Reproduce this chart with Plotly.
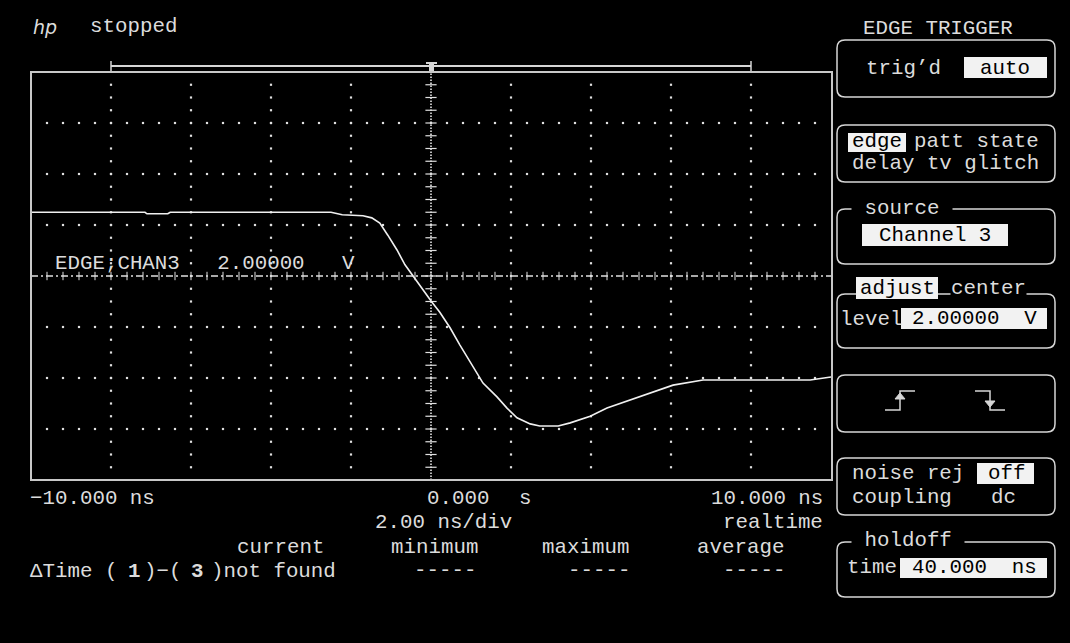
import numpy as np
import plotly.graph_objects as go

time_ns = [-10.0, -7.15, -7.10, -6.58, -6.52, -2.50, -2.22, -1.70, -1.48, -1.28,
           -1.08, -0.85, -0.65, -0.45, -0.20, 0.02, 0.22, 0.48, 0.72, 0.98,
           1.30, 1.65, 1.90, 2.15, 2.48, 2.72, 3.18, 3.48, 3.98, 4.40,
           5.05, 6.05, 6.80, 9.48, 10.0]
volts = [3.25, 3.25, 3.22, 3.22, 3.25, 3.25, 3.20, 3.18, 3.14, 3.04,
         2.80, 2.51, 2.22, 2.00, 1.73, 1.49, 1.29, 0.98, 0.65, 0.31,
         -0.10, -0.37, -0.59, -0.78, -0.90, -0.94, -0.94, -0.88, -0.75, -0.59,
         -0.41, -0.14, -0.04, -0.04, 0.02]

x_range = [-10, 10]          # ns
y_range = [-2, 6]            # V
trigger_level = 2.0          # V
x_divs = [-8, -6, -4, -2, 2, 4, 6, 8]
y_divs = [-1, 0, 1, 3, 4, 5]

x_left_label = "\u221210.000 ns"
x_mid_label = "0.000"
x_mid_unit = "s"
x_right_label = "10.000 ns"
timebase_label = "2.00 ns/div"
mode_label = "realtime"
stat_headers = ["current", "minimum", "maximum", "average"]

# ---------------- geometry helpers ----------------
W, H = 1070, 643
L, T, R, B = 31, 72, 831, 480
FG = "#dcdcdc"
LN = "#d6d6d6"
FONT = "Liberation Mono"
FS = 20.8


def fx(px):
    return (px - L) / (R - L)


def fy(py):
    return (B - py) / (B - T)


def P(px, py):
    return f"{fx(px):.5f},{fy(py):.5f}"


shapes = []
annotations = []


def txt(s, px, py, anchor="left", color=FG, size=FS, bg=None, family=FONT):
    a = dict(text=s, x=fx(px), y=fy(py), xref="paper", yref="paper",
             xanchor=anchor, yanchor="middle", showarrow=False,
             font=dict(family=family, size=size, color=color), borderpad=0)
    if bg:
        a["bgcolor"] = bg
    annotations.append(a)


def line(x0, y0, x1, y1, w=1.5, color=LN):
    shapes.append(dict(type="line", xref="paper", yref="paper",
                       x0=fx(x0), y0=fy(y0), x1=fx(x1), y1=fy(y1),
                       line=dict(color=color, width=w)))


def rect(x0, y0, x1, y1, fill=None, w=0, color=LN):
    shapes.append(dict(type="rect", xref="paper", yref="paper",
                       x0=fx(x0), y0=fy(y0), x1=fx(x1), y1=fy(y1),
                       fillcolor=fill, line=dict(color=color, width=w)))


def path(d, fill=None, w=1.5, color=LN):
    shapes.append(dict(type="path", xref="paper", yref="paper", path=d,
                       fillcolor=fill, line=dict(color=color, width=w)))


def rrect(x0, y0, x1, y1, r=8):
    d = (f"M{P(x0 + r, y0)} L{P(x1 - r, y0)} Q{P(x1, y0)} {P(x1, y0 + r)} "
         f"L{P(x1, y1 - r)} Q{P(x1, y1)} {P(x1 - r, y1)} L{P(x0 + r, y1)} "
         f"Q{P(x0, y1)} {P(x0, y1 - r)} L{P(x0, y0 + r)} Q{P(x0, y0)} {P(x0 + r, y0)} Z")
    path(d)


fig = go.Figure()

# ---------------- graticule ----------------
sub_y = np.arange(y_range[0], y_range[1] + 1e-9, 0.25)[1:-1]
sub_x = np.arange(x_range[0], x_range[1] + 1e-9, 0.4)[1:-1]
gx, gy = [], []
for xv in x_divs:
    gx += [xv] * len(sub_y)
    gy += list(sub_y)
for yv in y_divs:
    gx += list(sub_x)
    gy += [yv] * len(sub_x)
fig.add_trace(go.Scatter(x=gx, y=gy, mode="markers", hoverinfo="skip",
                         marker=dict(symbol="square", size=2.2, color="#e0e0e0", line=dict(width=0))))

# centre vertical axis (dense dotted, with tick crosses)
fig.add_trace(go.Scatter(x=[0, 0], y=y_range, mode="lines", hoverinfo="skip",
                         line=dict(color="#e6e6e6", width=1.6, dash="1.5px,1.5px")))
fig.add_trace(go.Scatter(x=[0] * len(sub_y), y=sub_y, mode="markers", hoverinfo="skip",
                         marker=dict(symbol="line-ew", size=8, line=dict(color="#e0e0e0", width=1.2))))

# trigger level line (dash-dot) with ticks
fig.add_trace(go.Scatter(x=x_range, y=[trigger_level] * 2, mode="lines", hoverinfo="skip",
                         line=dict(color="#e0e0e0", width=1.3, dash="7px,3px,2px,3px")))
fig.add_trace(go.Scatter(x=sub_x, y=[trigger_level] * len(sub_x), mode="markers",
                         hoverinfo="skip",
                         marker=dict(symbol="line-ns", size=6, line=dict(color="#e0e0e0", width=1))))

# ---------------- waveform ----------------
fig.add_trace(go.Scatter(x=time_ns, y=volts, mode="lines", hoverinfo="skip",
                         line=dict(color="#f0f0f0", width=1.6)))

# plot border
rect(L, T, R + 1, B, w=2, color="#c8c8c8")

# memory bar with trigger marker
line(111, 66, 751, 66, w=2)
line(111, 61, 111, 71, w=1.5)
line(751, 61, 751, 71, w=1.5)
line(426, 63, 437, 63, w=2)
rect(429, 63, 434, 71, fill=LN)

# ---------------- top-left / in-grid text ----------------
txt("<i>hp</i>", 32, 27, family="DejaVu Sans", size=19)
txt("stopped", 89, 27)
txt("EDGE;CHAN3   2.00000   V", 54, 263)

# ---------------- bottom text ----------------
txt(x_left_label, 29, 498)
txt(x_mid_label, 426, 498)
txt(x_mid_unit, 518, 498)
txt(x_right_label, 824, 498, anchor="right")
txt(timebase_label, 374, 522)
txt(mode_label, 824, 522, anchor="right")
txt(stat_headers[0], 236, 547)
txt(stat_headers[1], 479, 547, anchor="right")
txt(stat_headers[2], 541, 547)
txt(stat_headers[3], 696, 547)
txt("\u0394Time (", 29, 571)
txt("<b>1</b>", 134, 571, anchor="center")
txt(")\u2212(", 143, 571)
txt("<b>3</b>", 197, 571, anchor="center")
txt(")not found", 210, 571)
for xs in [413, 567, 722]:
    txt("-----", xs, 570)

# ---------------- right-hand soft-key panel ----------------
txt("EDGE TRIGGER", 862, 29)

rrect(837, 40, 1055, 97)
txt("trig\u2019d", 865, 68)
rect(964, 57, 1047, 78, fill="#f2f2f2")
txt("auto", 1005, 68, anchor="center", color="black")

rrect(837, 125, 1055, 182)
rect(848, 133, 906, 152, fill="#f2f2f2")
txt("edge", 877, 142, anchor="center", color="black")
txt("patt state", 913, 142)
txt("delay tv glitch", 851, 163)

rrect(837, 209, 1055, 264)
txt(" source ", 851, 208, bg="black")
rect(862, 224, 1008, 246, fill="#f2f2f2")
txt("Channel 3", 935, 235, anchor="center", color="black")

rrect(837, 294, 1055, 348)
rect(856, 277, 938, 299, fill="#f2f2f2")
txt("adjust", 897, 288, anchor="center", color="black")
txt("center", 950, 288, bg="black")
txt("level", 839, 319)
rect(901, 308, 1047, 329, fill="#f2f2f2")
txt("2.00000  V", 911, 318, color="black")

rrect(837, 375, 1055, 432)
path(f"M{P(885, 410)} L{P(900, 410)} L{P(900, 391)} L{P(915, 391)}")
path(f"M{P(895, 399)} L{P(905, 399)} L{P(900, 393)} Z", fill=LN, w=1)
path(f"M{P(975, 391)} L{P(990, 391)} L{P(990, 410)} L{P(1005, 410)}")
path(f"M{P(985, 401)} L{P(995, 401)} L{P(990, 407)} Z", fill=LN, w=1)

rrect(837, 458, 1055, 515)
txt("noise rej", 851, 473)
rect(977, 463, 1034, 484, fill="#f2f2f2")
txt("off", 1006, 473, anchor="center", color="black")
txt("coupling", 851, 497)
txt("dc", 1003, 497, anchor="center")

rrect(837, 542, 1055, 597)
txt(" holdoff ", 851, 540, bg="black")
txt("time", 846, 567)
rect(900, 558, 1047, 578, fill="#f2f2f2")
txt("40.000  ns", 911, 567, color="black")

# ---------------- layout ----------------
fig.update_layout(
    width=W, height=H,
    margin=dict(l=L, r=W - R, t=T, b=H - B, pad=0),
    paper_bgcolor="black", plot_bgcolor="black",
    showlegend=False,
    xaxis=dict(range=x_range, visible=False, fixedrange=True),
    yaxis=dict(range=y_range, visible=False, fixedrange=True),
    shapes=shapes, annotations=annotations,
)

fig.write_html("out.html", config={"displayModeBar": False},
               post_script="document.body.style.margin='0';document.body.style.background='black';")
